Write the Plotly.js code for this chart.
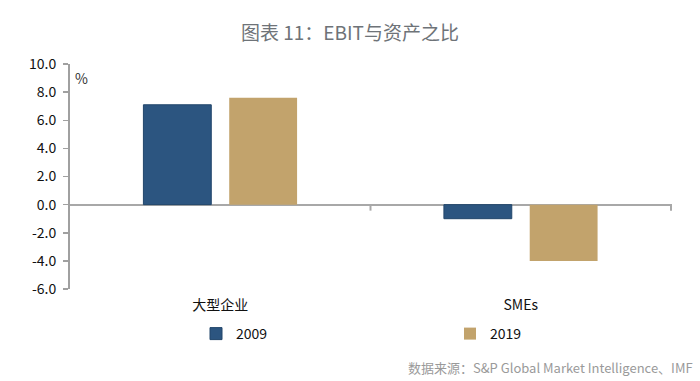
<!DOCTYPE html>
<html>
<head>
<meta charset="utf-8">
<script src="https://cdn.plot.ly/plotly-3.0.1.min.js"></script>
<style>html,body{margin:0;padding:0;background:#fff;}#chart{width:700px;height:381px;}</style>
</head>
<body>
<div id="chart"></div>
<script>
const categories = ["大型企业", "SMEs"];
const seriesNames = ["2009", "2019"];
const values2009 = [7.1, -1.0];
const values2019 = [7.6, -4.0];
const yTickVals = [10, 8, 6, 4, 2, 0, -2, -4, -6];
const yTickText = ["10.0", "8.0", "6.0", "4.0", "2.0", "0.0", "-2.0", "-4.0", "-6.0"];
const titleText = "图表 11：EBIT与资产之比";
const unitText = "%";
const sourceText = "数据来源：S&P Global Market Intelligence、IMF";

const fontFam = "'Noto Sans CJK SC', 'Noto Sans', sans-serif";

const traces = [
  {type: "bar", name: seriesNames[0], x: categories, y: values2009,
   marker: {color: "#2c5580", line: {color: "#22466b", width: 1}}},
  {type: "bar", name: seriesNames[1], x: categories, y: values2019,
   marker: {color: "#c2a36c", line: {color: "#c2a36c", width: 0}}}
];

const layout = {
  width: 700, height: 381,
  paper_bgcolor: "#ffffff", plot_bgcolor: "#ffffff",
  margin: {l: 70, r: 28, t: 64, b: 92},
  barmode: "group", bargap: 0.429, bargroupgap: 0.209,
  font: {family: fontFam, size: 14, color: "#111111"},
  title: {text: titleText, x: 0.5, xanchor: "center", y: 1 - 33/381, yanchor: "middle",
          font: {family: fontFam, size: 19, color: "#6e7378"}},
  xaxis: {type: "category", showline: false, ticks: "", showgrid: false, zeroline: false,
          tickfont: {family: fontFam, size: 14, color: "#111111"}, ticklabelstandoff: 6},
  yaxis: {range: [-6, 10], tickvals: yTickVals, ticktext: yTickText, showgrid: false,
          showline: true, linecolor: "#a0a0a0", linewidth: 2, ticks: "outside", ticklen: 5,
          tickcolor: "#a0a0a0", tickwidth: 1.5,
          zeroline: true, zerolinecolor: "#a8a8a8", zerolinewidth: 2,
          tickfont: {family: fontFam, size: 14, color: "#111111"}, ticklabelstandoff: 4},
  showlegend: true,
  legend: {orientation: "h", xref: "container", yref: "container", x: 0.28, y: 1 - 334/381,
           xanchor: "left", yanchor: "middle", entrywidth: 209, entrywidthmode: "pixels",
           itemwidth: 30, font: {family: fontFam, size: 14, color: "#111111"},
           bgcolor: "rgba(0,0,0,0)", traceorder: "normal"},
  shapes: [0.5, 1.5].map(b => ({type: "line", xref: "x", yref: "y", x0: b, x1: b,
           ysizemode: "pixel", yanchor: 0, y0: 0, y1: -6,
           line: {color: "#a8a8a8", width: 2}})),
  annotations: [
    {text: unitText, xref: "paper", yref: "y", x: 0, y: 9, xanchor: "left", yanchor: "middle",
     xshift: 3, showarrow: false, font: {family: fontFam, size: 14, color: "#333333"}},
    {text: sourceText, xref: "paper", yref: "paper", x: (695 - 70) / 602, y: (289 - 367) / 225,
     xanchor: "right", yanchor: "middle", showarrow: false,
     font: {family: fontFam, size: 13, color: "#9a9a9a"}}
  ]
};

Plotly.newPlot("chart", traces, layout, {displayModeBar: false, staticPlot: true});
</script>
</body>
</html>
